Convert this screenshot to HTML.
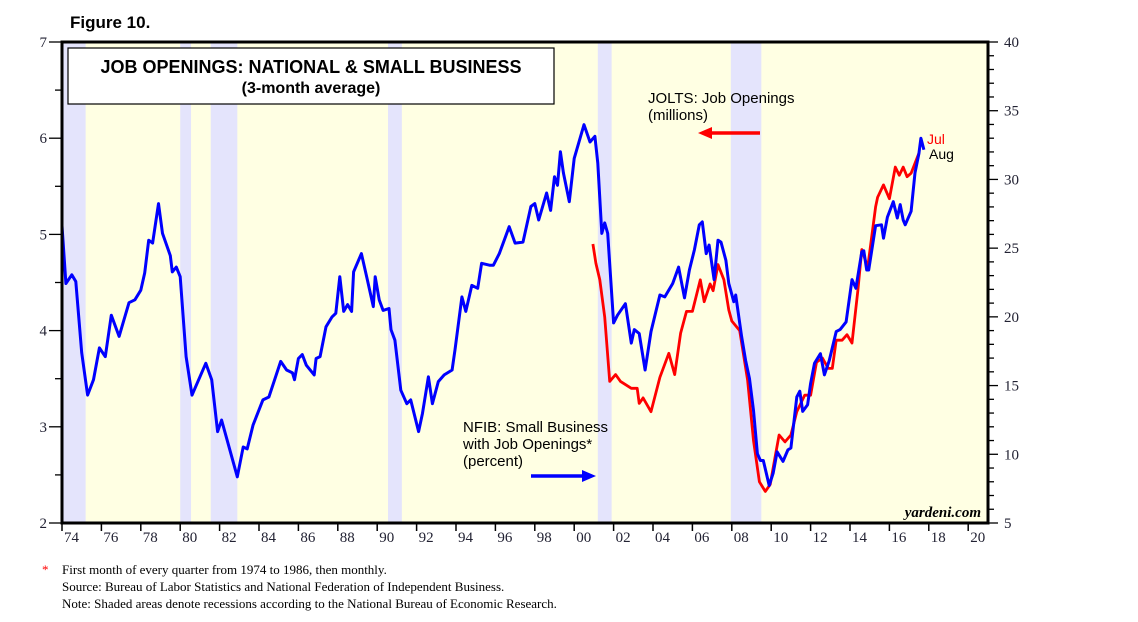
<!DOCTYPE html>
<html><head><meta charset="utf-8"><style>
body{margin:0;background:#fff;}
svg{display:block;}
</style></head><body>
<svg id="chart" width="1138" height="622" viewBox="0 0 1138 622" xmlns="http://www.w3.org/2000/svg">
<text x="70" y="28" font-family="Liberation Sans, sans-serif" font-weight="bold" font-size="17">Figure 10.</text>
<rect x="62" y="42" width="926" height="481" fill="#FFFFE3"/>
<g id="bands"></g>
<g id="lines"></g>
<rect x="62" y="42" width="926" height="481" fill="none" stroke="#000" stroke-width="3"/>
<g id="axes"></g>
<rect x="68" y="48" width="486" height="56" fill="#fff" stroke="#000" stroke-width="1.2"/>
<text x="311" y="73" text-anchor="middle" font-family="Liberation Sans, sans-serif" font-weight="bold" font-size="18">JOB OPENINGS: NATIONAL &amp; SMALL BUSINESS</text>
<text x="311" y="93" text-anchor="middle" font-family="Liberation Sans, sans-serif" font-weight="bold" font-size="16">(3-month average)</text>
<g font-family="Liberation Sans, sans-serif" font-size="15">
<text x="648" y="103">JOLTS: Job Openings</text>
<text x="648" y="120">(millions)</text>
</g>
<line x1="760" y1="133" x2="710" y2="133" stroke="#f00" stroke-width="3.5"/>
<polygon points="698,133 712,127 712,139" fill="#f00"/>
<g font-family="Liberation Sans, sans-serif" font-size="15">
<text x="463" y="432">NFIB: Small Business</text>
<text x="463" y="449">with Job Openings*</text>
<text x="463" y="466">(percent)</text>
</g>
<line x1="531" y1="476" x2="584" y2="476" stroke="#00f" stroke-width="3.5"/>
<polygon points="596,476 582,470 582,482" fill="#00f"/>
<text x="927" y="144" fill="#f00" font-family="Liberation Sans, sans-serif" font-size="14">Jul</text>
<text x="929" y="159" fill="#000" font-family="Liberation Sans, sans-serif" font-size="14">Aug</text>
<text x="981" y="517" text-anchor="end" font-family="Liberation Serif, serif" font-style="italic" font-weight="bold" font-size="15">yardeni.com</text>
<g font-family="Liberation Serif, serif" font-size="13">
<text x="42" y="574" fill="#f00">*</text>
<text x="62" y="574">First month of every quarter from 1974 to 1986, then monthly.</text>
<text x="62" y="591">Source:  Bureau of Labor Statistics and National Federation of Independent Business.</text>
<text x="62" y="608">Note: Shaded areas denote recessions according to the National Bureau of Economic Research.</text>
</g>
</svg>
<script>
const recessionStarts=[1973.9,1980.0,1981.55,1990.55,2001.2,2007.95];
const recessionEnds=[1975.2,1980.55,1982.9,1991.25,2001.9,2009.5];
const leftTicks=[2,3,4,5,6,7];
const rightTicks=[5,10,15,20,25,30,35,40];
const yearTicks=[1974,1976,1978,1980,1982,1984,1986,1988,1990,1992,1994,1996,1998,2000,2002,2004,2006,2008,2010,2012,2014,2016,2018,2020];
const nfibYears=[1974.0,1974.2,1974.5,1974.7,1975.0,1975.3,1975.6,1975.9,1976.2,1976.5,1976.9,1977.4,1977.7,1978.0,1978.2,1978.4,1978.6,1978.9,1979.1,1979.5,1979.6,1979.8,1980.0,1980.3,1980.6,1981.3,1981.6,1981.9,1982.1,1982.9,1983.2,1983.4,1983.7,1984.2,1984.5,1985.1,1985.4,1985.7,1985.8,1986.0,1986.2,1986.4,1986.8,1986.9,1987.1,1987.4,1987.7,1987.9,1988.1,1988.3,1988.5,1988.7,1988.8,1989.2,1989.5,1989.8,1989.9,1990.1,1990.3,1990.6,1990.7,1990.9,1991.2,1991.5,1991.7,1992.1,1992.3,1992.6,1992.8,1993.1,1993.4,1993.8,1993.95,1994.3,1994.5,1994.8,1995.1,1995.3,1995.7,1995.9,1996.2,1996.7,1997.0,1997.4,1997.8,1998.0,1998.2,1998.6,1998.8,1999.0,1999.15,1999.3,1999.45,1999.75,2000.0,2000.5,2000.8,2001.05,2001.2,2001.4,2001.55,2001.7,2002.0,2002.2,2002.6,2002.9,2003.05,2003.3,2003.6,2003.9,2004.35,2004.6,2005.0,2005.3,2005.6,2005.85,2006.1,2006.35,2006.5,2006.7,2006.85,2007.1,2007.3,2007.45,2007.7,2007.85,2008.1,2008.2,2008.5,2008.7,2008.9,2009.1,2009.3,2009.45,2009.6,2009.9,2010.1,2010.3,2010.6,2010.85,2011.0,2011.3,2011.45,2011.6,2011.85,2012.0,2012.2,2012.5,2012.7,2012.95,2013.3,2013.5,2013.8,2014.1,2014.3,2014.6,2014.7,2014.85,2014.95,2015.3,2015.6,2015.7,2015.9,2016.2,2016.4,2016.55,2016.7,2016.8,2017.1,2017.3,2017.5,2017.6,2017.75];
const nfibValues=[5.09,4.49,4.58,4.51,3.77,3.33,3.49,3.82,3.73,4.16,3.94,4.29,4.32,4.42,4.60,4.94,4.91,5.32,5.01,4.78,4.61,4.66,4.56,3.73,3.33,3.66,3.49,2.95,3.07,2.48,2.79,2.77,3.02,3.28,3.31,3.68,3.59,3.56,3.49,3.71,3.75,3.64,3.54,3.71,3.73,4.04,4.14,4.18,4.56,4.20,4.27,4.20,4.61,4.80,4.53,4.25,4.56,4.32,4.21,4.23,4.01,3.90,3.38,3.24,3.28,2.95,3.14,3.52,3.24,3.47,3.54,3.59,3.80,4.35,4.20,4.47,4.44,4.70,4.68,4.68,4.80,5.08,4.91,4.92,5.29,5.32,5.15,5.43,5.25,5.60,5.51,5.86,5.64,5.34,5.79,6.14,5.96,6.02,5.74,5.01,5.12,5.01,4.08,4.16,4.28,3.87,4.01,3.97,3.59,3.99,4.37,4.35,4.49,4.66,4.34,4.63,4.84,5.10,5.13,4.80,4.89,4.53,4.94,4.92,4.73,4.49,4.30,4.37,3.94,3.69,3.50,3.17,2.72,2.65,2.65,2.39,2.52,2.74,2.64,2.76,2.78,3.31,3.37,3.16,3.23,3.45,3.66,3.76,3.54,3.69,3.99,4.01,4.09,4.53,4.44,4.82,4.83,4.63,4.63,5.09,5.10,4.96,5.18,5.34,5.17,5.31,5.15,5.10,5.24,5.64,5.84,6.00,5.88];
const joltsYears=[2000.95,2001.1,2001.3,2001.55,2001.8,2002.1,2002.35,2002.9,2003.2,2003.3,2003.5,2003.9,2004.35,2004.8,2005.1,2005.4,2005.7,2006.0,2006.4,2006.6,2006.9,2007.05,2007.3,2007.6,2007.85,2008.0,2008.4,2008.8,2009.1,2009.4,2009.7,2009.95,2010.2,2010.4,2010.7,2011.0,2011.3,2011.7,2012.0,2012.3,2012.6,2012.9,2013.1,2013.3,2013.6,2013.85,2014.1,2014.4,2014.6,2014.9,2015.3,2015.4,2015.7,2016.0,2016.3,2016.5,2016.7,2016.9,2017.1,2017.5];
const joltsValues=[25.3,23.9,22.7,20.0,15.3,15.8,15.3,14.8,14.8,13.7,14.1,13.1,15.6,17.35,15.8,18.8,20.4,20.4,22.7,21.1,22.4,21.9,23.8,22.7,20.5,19.7,19.0,15.4,11.0,8.0,7.3,7.8,9.8,11.4,10.9,11.4,13.1,14.3,14.3,16.7,17.0,16.25,16.25,18.3,18.3,18.7,18.1,21.95,24.9,23.6,28.0,28.7,29.6,28.6,30.9,30.3,30.9,30.2,30.45,31.9];

const NS='http://www.w3.org/2000/svg';
const X0=62,X1=988,Y0=42,Y1=523;
function xs(y){return X0+(y-1974)*19.7;}
function yl(v){return Y1-(v-2)*(Y1-Y0)/5;}
function yr(v){return Y1-(v-5)*(Y1-Y0)/35;}
function mk(tag,attrs,parent){const e=document.createElementNS(NS,tag);for(const k in attrs)e.setAttribute(k,attrs[k]);parent.appendChild(e);return e;}
const bands=document.getElementById('bands'),lines=document.getElementById('lines'),axes=document.getElementById('axes');
recessionStarts.forEach((s,i)=>{
  const r=mk('rect',{x:Math.max(X0,xs(s)),y:Y0,width:xs(recessionEnds[i])-Math.max(X0,xs(s)),height:Y1-Y0,fill:'#E4E4FC'},bands);
  
  
});
const jp=mk('polyline',{points:joltsYears.map((y,i)=>xs(y).toFixed(1)+','+yr(joltsValues[i]).toFixed(1)).join(' '),fill:'none',stroke:'#f00','stroke-width':2.8,'stroke-linejoin':'round'},lines);


const np=mk('polyline',{points:nfibYears.map((y,i)=>xs(y).toFixed(1)+','+yl(nfibValues[i]).toFixed(1)).join(' '),fill:'none',stroke:'#00f','stroke-width':3,'stroke-linejoin':'round'},lines);


for(let v=2;v<=7;v+=0.5){
  const major=Number.isInteger(v);
  const t=mk('line',{x1:major?49:55,x2:X0,y1:yl(v),y2:yl(v),stroke:'#000','stroke-width':1.3},axes);
  
  
}
leftTicks.forEach(v=>{
  const t=mk('text',{x:47,y:yl(v)+5,'text-anchor':'end','font-family':'Liberation Serif, serif','font-size':15,fill:'#223'},axes);
  t.textContent=v;
  
  
});
for(let v=5;v<=40;v+=1){
  const major=v%5===0;
  const t=mk('line',{x1:X1,x2:major?998:994,y1:yr(v),y2:yr(v),stroke:'#000','stroke-width':1.3},axes);
  
  
}
rightTicks.forEach(v=>{
  const t=mk('text',{x:1004,y:yr(v)+5,'font-family':'Liberation Serif, serif','font-size':15,fill:'#223'},axes);
  t.textContent=v;
  
  
});
yearTicks.forEach(y=>{
  const t=mk('line',{x1:xs(y),x2:xs(y),y1:Y1,y2:Y1+8,stroke:'#000','stroke-width':1.5},axes);
  
  
  const l=mk('text',{x:xs(y)+2,y:Y1+19,'font-family':'Liberation Serif, serif','font-size':15,fill:'#223'},axes);
  l.textContent=String(y%100).padStart(2,'0');
  
  
});
</script>
</body></html>
